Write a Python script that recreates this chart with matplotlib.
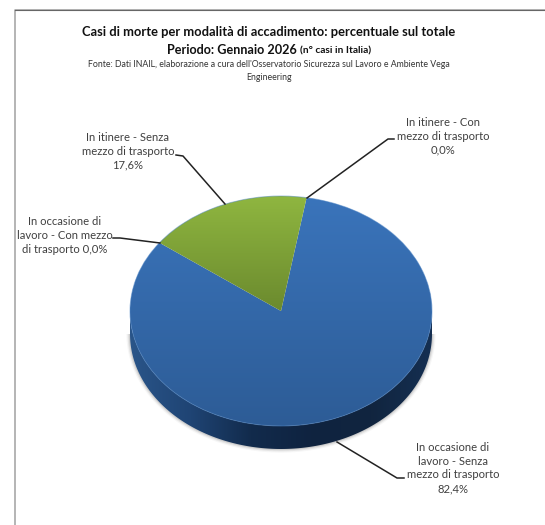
import numpy as np
import matplotlib
matplotlib.use("Agg")
import matplotlib.pyplot as plt
from matplotlib.patches import Polygon, Ellipse
from matplotlib.colors import LinearSegmentedColormap

# ---- data ----
categories = ["In occasione di\nlavoro - Senza\nmezzo di trasporto\n82,4%",
              "In occasione di\nlavoro - Con mezzo\ndi trasporto 0,0%",
              "In itinere - Senza\nmezzo di trasporto\n17,6%",
              "In itinere - Con\nmezzo di trasporto\n0,0%"]
values = [82.4, 0.0, 17.6, 0.0]
title_1 = "Casi di morte per modalità di accadimento: percentuale sul totale"
title_2 = "Periodo: Gennaio 2026"
title_2b = "(n° casi in Italia)"
source = "Fonte: Dati INAIL, elaborazione a cura dell'Osservatorio Sicurezza sul Lavoro e Ambiente Vega\nEngineering"

W, H = 545, 525
FONT = ["Lato", "DejaVu Sans"]
plt.rcParams["font.family"] = FONT

fig = plt.figure(figsize=(W/100, H/100), dpi=100)

# overlay in pixel coordinates
ov = fig.add_axes([0, 0, 1, 1], zorder=3)
ov.set_xlim(0, W); ov.set_ylim(H, 0); ov.axis("off"); ov.patch.set_alpha(0)

# frame
ov.plot([15, 15, W], [H, 10, 10], color="#a0a0a0", lw=1.1, solid_capstyle="butt")
ov.plot([15, W], [10.0, 10.0], color="#666666", lw=0.8)

# pie axes: one data unit = rx horizontally, ry vertically
cx, cy, rx, ry, depth = 281, 311, 151, 115, 23
ext = 1.3
ax = fig.add_axes([(cx-ext*rx)/W, 1-(cy+ext*ry)/H, 2*ext*rx/W, 2*ext*ry/H], zorder=2)
wedges, _ = ax.pie(values, startangle=143.6, counterclock=True, radius=1, center=(0, 0),
                   colors=["none"]*4, wedgeprops=dict(linewidth=0))
ax.set_aspect("auto")
ax.set_xlim(-ext, ext); ax.set_ylim(-ext, ext); ax.axis("off")
d = depth/ry

# soft shadow under the pie
for i, a in enumerate([0.05, 0.10, 0.16]):
    s = (3-i)*1.2
    t = np.linspace(np.pi, 2*np.pi, 100)
    ax.add_patch(Polygon(np.c_[np.cos(t)*(1+s/rx), np.sin(t)*(1+s/ry)-d],
                         fc="#555555", ec="none", alpha=a, zorder=1))

# side wall with horizontal gradient
t = np.linspace(np.pi, 2*np.pi, 200)
side = Polygon(np.r_[np.c_[np.cos(t), np.sin(t)-d], np.c_[np.cos(t[::-1]), np.sin(t[::-1])]],
               closed=True, fc="none", ec="none", transform=ax.transData)
ax.add_patch(side)
side_cm = LinearSegmentedColormap.from_list("s", ["#2a5589", "#1f4474", "#122b4c", "#0f2340", "#11253f", "#152f52"])
im = ax.imshow(np.linspace(0, 1, 256)[None, :], cmap=side_cm, extent=(-1, 1, -1.3, 0.2),
               aspect="auto", zorder=2)
im.set_clip_path(side)

# top face gradients clipped to wedges
blue_cm = LinearSegmentedColormap.from_list("b", ["#3a74bb", "#2d5c96"])
green_cm = LinearSegmentedColormap.from_list("g", ["#8fb640", "#6b8a2e"])
cmaps = {0: (blue_cm, (-1, 1, -1, 1)), 2: (green_cm, (-1, 1, 0, 1))}
for idx, (cm, extent) in cmaps.items():
    w = wedges[idx]
    w.set_zorder(3)
    im = ax.imshow(np.linspace(0, 1, 256)[:, None], cmap=cm, extent=extent,
                   aspect="auto", zorder=3, origin="upper")
    im.set_clip_path(w)
ax.add_patch(Ellipse((0, 0), 2, 2, fc="none", ec="#4f86c6", lw=0.7, alpha=0.5, zorder=4))
ax.set_xlim(-ext, ext); ax.set_ylim(-ext, ext)

# titles
ov.text(269, 32, title_1, ha="center", va="center", fontsize=9.25, fontweight="bold", color="#111111")
ov.text(231.5, 49.5, title_2, ha="center", va="center", fontsize=9.1, fontweight="bold", color="#111111")
ov.text(336, 50.5, title_2b, ha="center", va="center", fontsize=7.3, fontweight="bold", color="#111111")
ov.text(269, 71, source, ha="center", va="center", fontsize=6.35, color="#333333", linespacing=1.45)

# labels
label_pos = [(453, 468), (65, 235.5), (128, 151.5), (443, 136)]
for s, (x, y) in zip(categories, label_pos):
    ov.text(x, y, s, ha="center", va="center", fontsize=8.1, color="#404040", linespacing=1.3)

# leader lines
leaders = [[(337, 442), (397, 478), (404, 478)],
           [(160, 243), (120, 238), (113, 238)],
           [(225, 204), (183, 156), (176, 155)],
           [(307, 198), (388, 139), (394, 139)]]
for L in leaders:
    xs, ys = zip(*L)
    ov.plot(xs, ys, color="#222222", lw=1.1)

fig.savefig("out.png", dpi=100)
